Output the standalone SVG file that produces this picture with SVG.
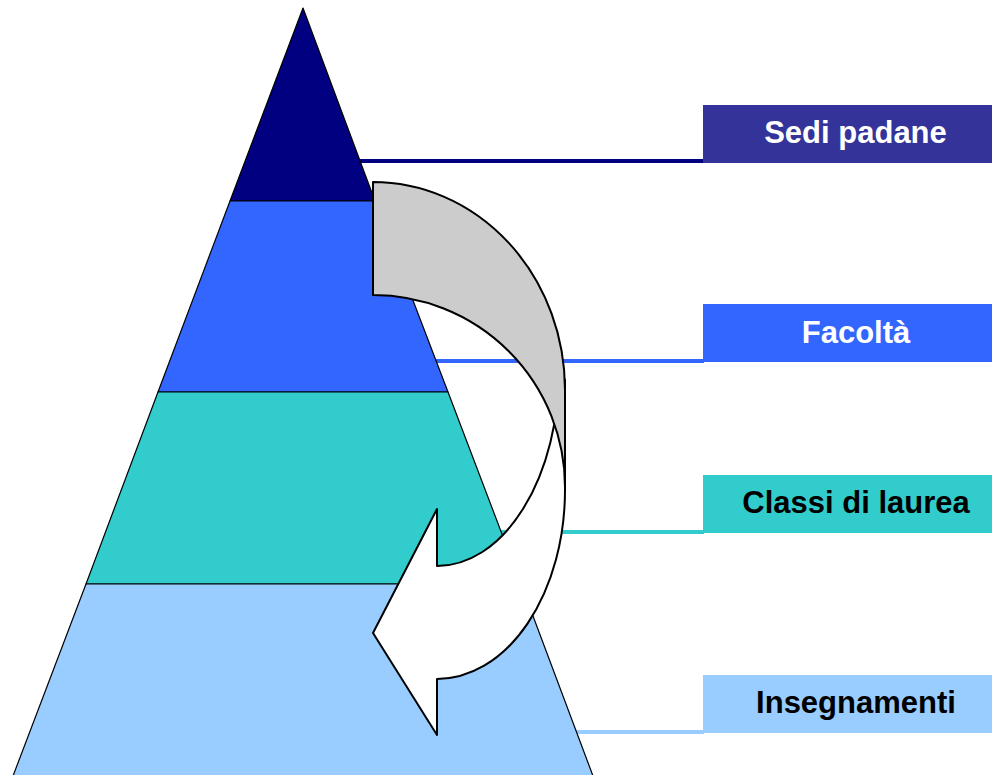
<svg xmlns="http://www.w3.org/2000/svg" width="992" height="775" viewBox="0 0 992 775">
<style>
.lvl{stroke:#000;stroke-width:1.2;stroke-linejoin:round}
.lbl{font-family:"Liberation Sans",Arial,sans-serif;font-weight:bold;font-size:31px;text-anchor:middle}
.con{stroke-width:4;fill:none}
.arr{stroke:#000;stroke-width:2;stroke-linejoin:round}
</style>
<rect width="992" height="775" fill="#fff"/>
<g id="connectors">
<line class="con" x1="358" y1="161" x2="704" y2="161" stroke="#000080"/>
<line class="con" x1="434" y1="361" x2="704" y2="361" stroke="#3366FF"/>
<line class="con" x1="498" y1="532" x2="704" y2="532" stroke="#33CCCC"/>
<line class="con" x1="574" y1="732" x2="704" y2="732" stroke="#99CCFF"/>
</g>
<g id="pyramid">
<polygon id="level-sedi" class="lvl" fill="#000080" points="303,8 375,201 230,201"/>
<polygon id="level-facolta" class="lvl" fill="#3366FF" points="230,201 375,201 448,392 158,392"/>
<polygon id="level-classi" class="lvl" fill="#33CCCC" points="158,392 448,392 521,584 86,584"/>
<polygon id="level-insegnamenti" class="lvl" fill="#99CCFF" points="86,584 521,584 593,776 13,776"/>
</g>
<g id="node-sedi">
<rect x="703" y="105" width="289" height="58" fill="#333399"/>
<text class="lbl" x="855.5" y="143" fill="#fff">Sedi padane</text>
</g>
<g id="node-facolta">
<rect x="703" y="304" width="289" height="58" fill="#3366FF"/>
<text class="lbl" x="856" y="343" fill="#fff">Facoltà</text>
</g>
<g id="node-classi">
<rect x="703" y="475" width="289" height="58" fill="#33CCCC"/>
<text class="lbl" x="856" y="513" fill="#000">Classi di laurea</text>
</g>
<g id="node-insegnamenti">
<rect x="703" y="675" width="289" height="58" fill="#99CCFF"/>
<text class="lbl" x="856" y="713" fill="#000">Insegnamenti</text>
</g>
<g id="curved-arrow">
<path class="arr" fill="#fff" d="M437,509 L373,633 L437,735 L437,679 A128,189 0 0 0 565,490 L565,380 L559,370 A122,196 0 0 1 437,566 Z"/>
<path class="arr" fill="#CCCCCC" d="M373,182 A192,208 0 0 1 565,390 L565,487 A192,192 0 0 0 373,295 Z"/>
</g>
</svg>
